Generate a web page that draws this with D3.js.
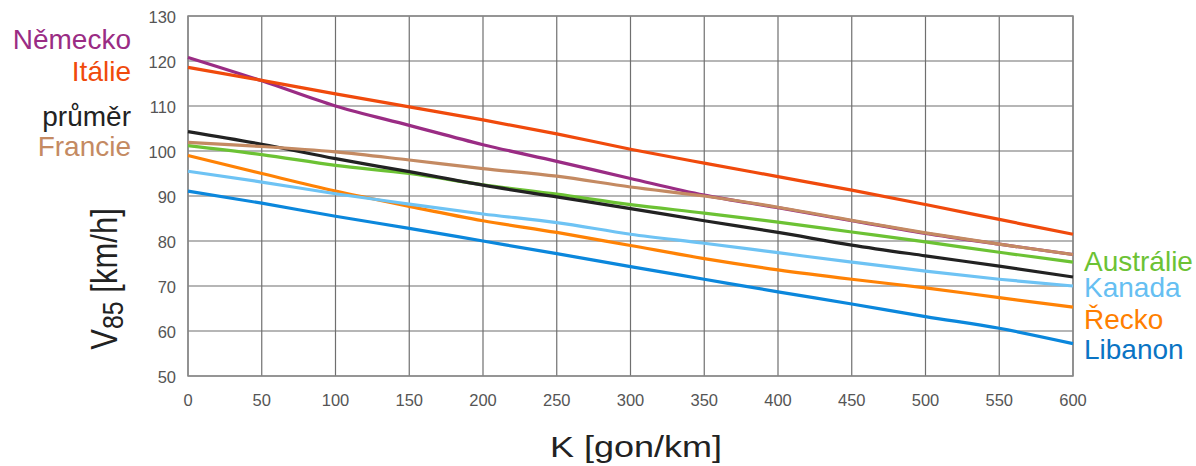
<!DOCTYPE html>
<html>
<head>
<meta charset="utf-8">
<script src="https://cdn.jsdelivr.net/npm/d3@7"></script>
<style>
  body { margin: 0; background: #fff; }
  text { font-family: "Liberation Sans", Arial, sans-serif; }
</style>
</head>
<body>
<script>
const width = 1196, height = 466;

// K [gon/km]
const kValues = [0, 50, 100, 150, 200, 250, 300, 350, 400, 450, 500, 550, 600];

// V85 [km/h] per country at each K step
const nemecko = [120.8, 115.6, 110.0, 105.7, 101.4, 97.7, 93.9, 90.2, 87.4, 84.5, 81.7, 79.3, 77.0];
const italie = [118.6, 115.7, 112.7, 109.8, 106.9, 103.8, 100.4, 97.3, 94.3, 91.3, 88.1, 84.8, 81.5];
const prumer = [104.3, 101.5, 98.3, 95.4, 92.4, 89.8, 87.2, 84.5, 81.9, 79.1, 76.7, 74.4, 72.0];
const francie = [101.9, 101.0, 99.8, 98.0, 96.1, 94.4, 92.0, 90.0, 87.5, 84.6, 81.8, 79.3, 77.0];
const australie = [101.2, 99.2, 96.8, 95.0, 92.5, 90.4, 88.1, 86.2, 84.2, 82.0, 79.8, 77.5, 75.3];
const kanada = [95.5, 93.1, 90.5, 88.2, 86.0, 84.1, 81.5, 79.5, 77.4, 75.3, 73.3, 71.5, 70.0];
const recko = [99.0, 95.0, 91.1, 87.7, 84.5, 81.9, 79.0, 76.1, 73.6, 71.5, 69.6, 67.4, 65.3];
const libanon = [91.1, 88.4, 85.5, 82.8, 80.0, 77.2, 74.3, 71.5, 68.7, 66.0, 63.2, 60.6, 57.2];

const xTicks = [0, 50, 100, 150, 200, 250, 300, 350, 400, 450, 500, 550, 600];
const yTicks = [50, 60, 70, 80, 90, 100, 110, 120, 130];

// drawing order: back to front
const series = [
  { name: "Libanon", values: libanon, color: "#0b87dc", label: "#0a74c4", side: "right", ly: 359 },
  { name: "Řecko", values: recko, color: "#ff8205", label: "#ff7f00", side: "right", ly: 329 },
  { name: "Kanada", values: kanada, color: "#6ec3f4", label: "#66bff2", side: "right", ly: 297 },
  { name: "Austrálie", values: australie, color: "#6cc234", label: "#6cc234", side: "right", ly: 271 },
  { name: "průměr", values: prumer, color: "#222222", label: "#222222", side: "left", ly: 126 },
  { name: "Německo", values: nemecko, color: "#9a2c84", label: "#9a2c84", side: "left", ly: 49 },
  { name: "Francie", values: francie, color: "#c48a62", label: "#c48a62", side: "left", ly: 156 },
  { name: "Itálie", values: italie, color: "#f04a0c", label: "#f04a0c", side: "left", ly: 81 }
];

const margin = { left: 188, right: 1073, top: 16, bottom: 376 };

const x = d3.scaleLinear().domain([0, 600]).range([margin.left, margin.right]);
const y = d3.scaleLinear().domain([50, 130]).range([margin.bottom, margin.top]);

const svg = d3.select("body").append("svg")
  .attr("width", width)
  .attr("height", height);

// grid
const grid = svg.append("g").attr("class", "grid");
grid.selectAll("line.v")
  .data(xTicks)
  .enter()
  .append("line")
  .attr("x1", d => x(d)).attr("x2", d => x(d))
  .attr("y1", y(130)).attr("y2", y(50))
  .attr("stroke", "#6f6f6f")
  .attr("stroke-width", 1.2);
grid.selectAll("line.h")
  .data(yTicks)
  .enter()
  .append("line")
  .attr("x1", x(0)).attr("x2", x(600))
  .attr("y1", d => y(d)).attr("y2", d => y(d))
  .attr("stroke", "#6f6f6f")
  .attr("stroke-width", 1.2);

// frame
svg.append("rect")
  .attr("x", x(0)).attr("y", y(130))
  .attr("width", x(600) - x(0)).attr("height", y(50) - y(130))
  .attr("fill", "none")
  .attr("stroke", "#8a8a8a")
  .attr("stroke-width", 1.5);

// tick labels
svg.append("g")
  .selectAll("text")
  .data(yTicks)
  .enter()
  .append("text")
  .attr("x", 176)
  .attr("y", d => y(d) + 7)
  .attr("text-anchor", "end")
  .attr("font-size", 16.5)
  .attr("fill", "#555")
  .text(d => d);

svg.append("g")
  .selectAll("text")
  .data(xTicks)
  .enter()
  .append("text")
  .attr("x", d => x(d))
  .attr("y", 406)
  .attr("text-anchor", "middle")
  .attr("font-size", 16.5)
  .attr("fill", "#555")
  .text(d => d);

// lines
const line = d3.line()
  .x((d, i) => x(kValues[i]))
  .y(d => y(d))
  .curve(d3.curveMonotoneX);

svg.append("g")
  .selectAll("path")
  .data(series)
  .enter()
  .append("path")
  .attr("d", d => line(d.values))
  .attr("fill", "none")
  .attr("stroke", d => d.color)
  .attr("stroke-width", 3.2)
  .attr("stroke-linejoin", "round");

// series labels
svg.append("g")
  .selectAll("text")
  .data(series)
  .enter()
  .append("text")
  .attr("x", d => d.side == "left" ? 131 : 1084)
  .attr("y", d => d.ly)
  .attr("text-anchor", d => d.side == "left" ? "end" : "start")
  .attr("font-size", 28)
  .attr("fill", d => d.label)
  .text(d => d.name);

// axis titles (the original picture is a little wider than tall)
svg.append("text")
  .attr("transform", "translate(636,457) scale(1.2,1)")
  .attr("text-anchor", "middle")
  .attr("font-size", 30)
  .attr("fill", "#222")
  .text("K [gon/km]");

const yTitle = svg.append("text")
  .attr("transform", "translate(117,279) scale(1.2,1) rotate(-90)")
  .attr("text-anchor", "middle")
  .attr("font-size", 31)
  .attr("fill", "#222");
yTitle.append("tspan").text("V");
yTitle.append("tspan").attr("dy", 5).attr("font-size", 25).text("85");
yTitle.append("tspan").attr("dy", -5).text(" [km/h]");
</script>
</body>
</html>
